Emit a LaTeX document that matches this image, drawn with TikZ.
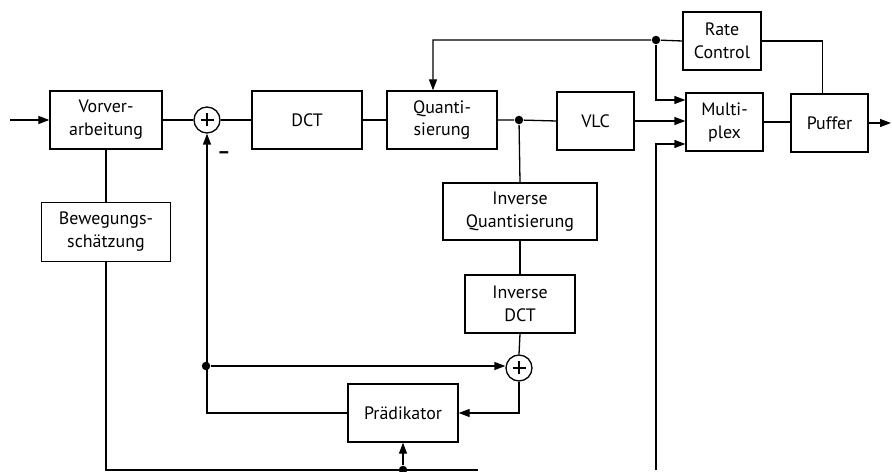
\documentclass[tikz,border=0pt]{standalone}
\usepackage{fontspec}
\setmainfont{PT Sans}
\usetikzlibrary{arrows.meta,calc}
\begin{document}
\begin{tikzpicture}[x=1bp,y=-1bp,
  line width=1.3bp,
  blk/.style={draw,minimum width=#1,minimum height=58bp,inner sep=0pt,align=center,
    font=\fontsize{18}{23}\selectfont},
  sumnode/.style={draw,circle,minimum size=26bp,inner sep=0pt,
    path picture={\draw[line width=1.8bp] ([xshift=-6.5bp]path picture bounding box.center) -- ([xshift=6.5bp]path picture bounding box.center)
      ([yshift=-6.5bp]path picture bounding box.center) -- ([yshift=6.5bp]path picture bounding box.center);}},
  arr/.style={-{Triangle[length=11bp,width=8bp]}},
  dot/.style={circle,fill,inner sep=0pt,minimum size=8.5bp}]
\useasboundingbox (0,0) rectangle (892,472);

% blocks
\node[blk=112bp] (vor) at (106,120) {Vorver-\\arbeitung};
\node[blk=129bp,minimum height=59bp] (bew) at (106,232) {Bewegungs-\\schätzung};
\node[sumnode] (s1) at (207,120) {};
\node[blk=110bp] (dct) at (307,120) {DCT};
\node[blk=110bp] (quant) at (442,120) {Quanti-\\sierung};
\node[blk=77bp] (vlc) at (595.5,121) {VLC};
\node[blk=78bp] (rate) at (722,41) {Rate\\Control};
\node[blk=77bp] (mux) at (724.5,122) {Multi-\\plex};
\node[blk=77bp] (puf) at (829.5,123) {Puffer};
\node[blk=154bp,minimum height=57bp] (invq) at (520,211.5) {Inverse\\Quantisierung};
\node[blk=110bp] (invdct) at (520,304) {Inverse\\DCT};
\node[sumnode] (s2) at (519,368) {};
\node[blk=110bp] (pred) at (403,413) {Prädikator};
\node[font=\fontsize{20}{20}\selectfont\bfseries] (minus) at (224,155) {–};

% coordinates
\coordinate (in) at (10,120);
\coordinate (out) at (891,123);
\node[dot] (j1) at (519,120) {};
\node[dot] (j4) at (656,40) {};
\node[dot] (j2) at (206,366) {};
\node[dot] (j3) at (pred.south |- 0,470) {};
\coordinate (bl) at (106,470);
\coordinate (br) at (478,470);
\coordinate (mb) at (656,470);

% main path
\draw[arr] (in) -- (vor.west);
\draw (vor.east) -- (s1.west);
\draw (s1.east) -- (dct.west);
\draw (dct.east) -- (quant.west);
\draw (quant.east) -- (j1) -- (vlc.west);
\draw (j1) -- (invq.north);
\draw (invq.south) -- (invdct.north);
\draw (invdct.south) -- (s2.north);
\draw[arr] (s2.south) |- (pred.east);
\draw[arr] (pred.west) -| (s1.south);
\draw[arr] (j2) -- (j2 -| s2.west);
\draw (vor.south) -- (bew.north);
\draw (bew.south) -- (bl) -- (br);
\draw[arr] (j3) -- (pred.south);

% rate control loop
\draw[arr] (rate.west) -- (j4) -| ([xshift=-9bp]quant.north);
\draw[arr] (j4) |- ([yshift=22bp]mux.west);
\draw[arr] (vlc.east) -- (vlc.east -| mux.west);
\draw[arr] (mb) |- ([yshift=-22bp]mux.west);
\draw (mux.east) -- (mux.east -| puf.west);
\draw[arr] (puf.east) -- (out);
\draw (rate.east) -| ([xshift=-7bp]puf.north);
\end{tikzpicture}
\end{document}
